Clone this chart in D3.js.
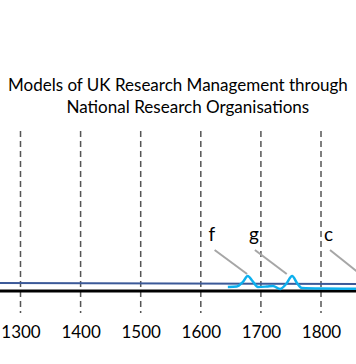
<!DOCTYPE html>
<html>
<head>
<meta charset="utf-8">
<script src="https://cdn.jsdelivr.net/npm/d3@7/dist/d3.min.js"></script>
<style>
  html, body { margin: 0; padding: 0; background: #fff; }
  svg { display: block; }
  text { font-family: Lato, "Open Sans", sans-serif; fill: #000; }
</style>
</head>
<body>
<svg id="chart" width="356" height="364"></svg>
<script>
// ---- data ----
const titleLines = ["Models of UK Research Management through", "National Research Organisations"];
const tickYears = [1300, 1400, 1500, 1600, 1700, 1800];
const gridExtent = [-22, 160];          // value extent of the dashed year lines
const baseLineYears = [1260, 1865];     // black axis line
const blueYears = [1260, 1865];
const blueValues = [8, 7];
const cyanYears  = [1645, 1660, 1670, 1678, 1686, 1695, 1710, 1720, 1732, 1742, 1752, 1760, 1768, 1800, 1865];
const cyanValues = [4,    4.5,  9,    15,   10,   4,    4.5,  5,    2,    7,    15,   8,    3,    2.5,  2.3];
const labels = ["f", "g", "c"];
const labelYears = [1613, 1680, 1805];
const labelValue = 50;
const arrowStartYears = [1623, 1690, 1815];
const arrowEndYears   = [1677, 1743, 1865];
const arrowStartValue = 41;
const arrowEndValues  = [17, 17, 17];

// ---- scales ----
const svg = d3.select("#chart");
const x = d3.scaleLinear().domain([1300, 1800]).range([20.5, 321]);
const y = d3.scaleLinear().domain([0, 15]).range([291, 276]);

// title: size the font so each line fills its measured width naturally
function fitText(str, xStart, yBase, width) {
  const t = svg.append("text").attr("x", xStart).attr("y", yBase)
    .style("font-size", "18px").text(str);
  const w = t.node().getComputedTextLength();
  t.style("font-size", (18 * width / w).toFixed(2) + "px");
  return t;
}
fitText(titleLines[0], 8, 91, 340);
fitText(titleLines[1], 66.5, 113, 243);

// dashed year lines
svg.append("g").selectAll("line").data(tickYears).join("line")
  .attr("x1", d => x(d)).attr("x2", d => x(d))
  .attr("y1", y(gridExtent[1])).attr("y2", y(gridExtent[0]))
  .attr("stroke", "#555").attr("stroke-width", 1.5)
  .attr("stroke-dasharray", "6,4");

// tick labels via axis
const axis = d3.axisBottom(x).tickValues(tickYears).tickFormat(d3.format("d")).tickSize(0).tickPadding(0);
const ax = svg.append("g").attr("transform", "translate(0,326)").call(axis);
ax.select(".domain").remove();
ax.selectAll("text").style("font-size", "17px").style("font-family", "Lato, 'Open Sans', sans-serif").attr("fill", "#000").attr("dy", "0.71em");

// black base line
svg.append("line")
  .attr("x1", x(baseLineYears[0])).attr("x2", x(baseLineYears[1]))
  .attr("y1", y(0)).attr("y2", y(0))
  .attr("stroke", "#000").attr("stroke-width", 3);

// dark blue line
const line = d3.line().x(d => x(d[0])).y(d => y(d[1]));
svg.append("path").datum(blueYears.map((d, i) => [d, blueValues[i]]))
  .attr("d", line).attr("fill", "none")
  .attr("stroke", "#3B5998").attr("stroke-width", 2);

// cyan curve
const curve = d3.line().x(d => x(d[0])).y(d => y(d[1])).curve(d3.curveMonotoneX);
svg.append("path").datum(cyanYears.map((d, i) => [d, cyanValues[i]]))
  .attr("d", curve).attr("fill", "none")
  .attr("stroke", "#0DB0EE").attr("stroke-width", 2.5);

// annotation arrows
svg.append("g").selectAll("line").data(labels).join("line")
  .attr("x1", (d, i) => x(arrowStartYears[i])).attr("y1", y(arrowStartValue))
  .attr("x2", (d, i) => x(arrowEndYears[i])).attr("y2", (d, i) => y(arrowEndValues[i]))
  .attr("stroke", "#A6A6A6").attr("stroke-width", 2);

// annotation labels
svg.append("g").selectAll("text").data(labels).join("text")
  .attr("x", (d, i) => x(labelYears[i])).attr("y", y(labelValue))
  .style("font-size", "19px").text(d => d);
</script>
</body>
</html>
